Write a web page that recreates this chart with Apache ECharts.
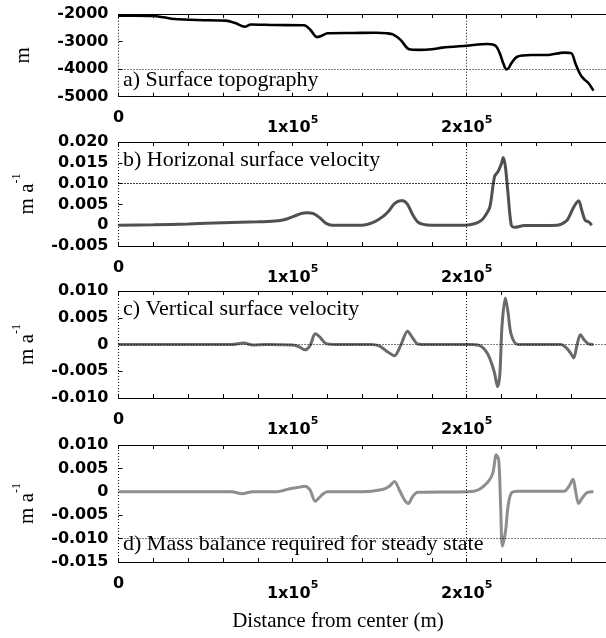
<!DOCTYPE html>
<html><head><meta charset="utf-8">
<script src="https://cdn.jsdelivr.net/npm/echarts@6/dist/echarts.min.js"></script>
<style>html,body{margin:0;padding:0;background:#fff}#c{width:606px;height:638px}</style>
</head><body><div id="c"></div>
<script>
// ---- data (distance in m) ----
const distA = [0,10000,20000,26000,32000,45000,61600,67000,72600,76000,90000,106600,110000,114000,117000,120000,135000,148000,154000,157600,162000,167000,172500,180000,186000,200000,212000,215000,217000,219000,221000,222800,224200,225600,229000,237000,246000,256000,260000,262400,264000,266000,268000,270000,272800];
const elevA = [-2060,-2060,-2070,-2120,-2180,-2220,-2240,-2330,-2460,-2380,-2400,-2410,-2560,-2840,-2780,-2700,-2690,-2680,-2700,-2740,-2940,-3280,-3300,-3280,-3220,-3150,-3090,-3110,-3180,-3420,-3790,-4010,-3950,-3790,-3550,-3490,-3490,-3400,-3420,-3790,-4030,-4270,-4400,-4510,-4780];

const distB = [0,20000,40000,60000,80000,90000,95000,101000,105000,108000,112000,115600,119000,123000,140000,146000,151600,155000,158500,162000,163300,166000,169000,171800,175000,180000,199000,205000,208600,211000,213300,216000,218000,220000,221000,222200,223700,225600,227500,233000,252000,255000,257700,261500,264300,266000,268000,270000,271800];
const velH = [0,0.0001,0.0003,0.0006,0.0008,0.001,0.0013,0.0022,0.0028,0.003,0.0028,0.0018,0.0005,0,0,0.0006,0.002,0.0033,0.0052,0.0059,0.0059,0.005,0.0025,0.0008,0.0002,0,0,0.0004,0.0012,0.0025,0.0044,0.0117,0.0129,0.0149,0.0163,0.0141,0.0077,0,-0.0005,-0.0001,0,0.0004,0.0012,0.0044,0.0059,0.0037,0.0012,0.0008,0];

const distC = [0,40000,65000,72000,77000,85000,100000,103600,107000,110000,113000,115600,119000,125000,145000,150000,153800,158500,162300,166000,169000,171800,176500,203000,208600,212400,215800,217700,219000,220300,222200,223700,225600,229400,254000,256800,259700,261500,263400,265300,267600,270000,272800];
const velV = [0,0,0,0.0003,-0.0001,0,-0.0001,-0.0004,-0.001,-0.0002,0.002,0.0014,0.0002,0,0,-0.0003,-0.0012,-0.0021,0,0.0025,0.0012,0.0001,0,0,-0.0004,-0.002,-0.0051,-0.0079,-0.0057,0.0036,0.0087,0.0061,0.0018,0,0,-0.0005,-0.0016,-0.0025,0,0.0018,0.0008,0.0001,0];

const distD = [0,40000,65000,71000,77000,90000,99000,104000,107000,110000,113000,116700,120000,140000,151600,155600,158500,161300,164200,166400,169000,171800,200000,206600,212400,215000,217000,218400,219500,220500,222400,223700,225600,229400,256000,258600,261100,262400,264300,266200,269000,272800];
const massBal = [0,0,0,-0.0004,0,0,0.0007,0.001,0.0012,0.0004,-0.002,-0.0007,0,0,0.0005,0.0012,0.0022,0.0004,-0.0017,-0.0025,-0.001,-0.0001,0,0.0004,0.0022,0.004,0.0079,0.0068,-0.0032,-0.0116,-0.0081,-0.0032,-0.0003,0.0001,0.0001,0.0011,0.0027,0.0004,-0.0025,-0.0014,-0.0002,0];

// ---- axes / labels ----
const xLabelValues = [0, 100000, 200000];
const xLabelTexts = ['{z|0}', '{b|1x10}{s|5}', '{b|2x10}{s|5}'];
const yRanges = [[-5000, -2000, 1000], [-0.005, 0.020, 0.005], [-0.010, 0.010, 0.005], [-0.015, 0.010, 0.005]];
const yNames = ['{t|m}', '{t|m a}{s|-1}', '{t|m a}{s|-1}', '{t|m a}{s|-1}'];
const vGridLines = [0, 200000];
const hGridA = [-4000];
const hGridB = [0.015, 0.005];
const hGridC = [0, -0.005];
const hGridD = [0.005, -0.010];
const panelTitles = ['a) Surface topography', 'b) Horizonal surface velocity', 'c) Vertical surface velocity', 'd) Mass balance required for steady state'];
const xTitle = 'Distance from center (m)';

// ---- layout ----
const gridPos = [[14, 82.7], [142, 104], [291, 107], [445, 117]];
const titleY = [80, 160, 309.5, 544.5];
const nameGaps = [85, 80.5, 80.5, 80.5];
const lineColors = ['#000000', '#505050', '#6a6a6a', '#8e8e8e'];
const lineWidths = [2.6, 3, 3, 3];
const X_MAX = 280000;

const sansFont = 'DejaVu Sans';
const serifFont = 'Liberation Serif';

const seriesData = [
  distA.map((d, i) => [d, elevA[i]]),
  distB.map((d, i) => [d, velH[i]]),
  distC.map((d, i) => [d, velV[i]]),
  distD.map((d, i) => [d, massBal[i]])
];
const hGrids = [hGridA, hGridB, hGridC, hGridD];

const dotted = { color: '#000', width: 1, type: [1, 2] };

const grids = [], xAxes = [], yAxes = [], series = [];
for (let i = 0; i < 4; i++) {
  grids.push({ left: 118.5, top: gridPos[i][0], width: 494, height: gridPos[i][1], containLabel: false });
  xAxes.push({
    type: 'value', gridIndex: i, min: 0, max: X_MAX, interval: 20000, position: 'bottom',
    axisLine: { show: true, onZero: false, lineStyle: { color: '#000', width: 1 } },
    axisTick: { show: true, inside: true, length: 4, lineStyle: { color: '#000', width: 1 } },
    splitLine: { show: false },
    axisLabel: {
      margin: 13.5, showMaxLabel: false,
      formatter: v => { const k = xLabelValues.indexOf(Math.round(v)); return k >= 0 ? xLabelTexts[k] : ''; },
      rich: {
        z: { fontFamily: sansFont, fontWeight: 'bold', fontSize: 16, lineHeight: 16, color: '#000', verticalAlign: 'top' },
        b: { fontFamily: sansFont, fontWeight: 'bold', fontSize: 16, lineHeight: 26, color: '#000', verticalAlign: 'bottom' },
        s: { fontFamily: sansFont, fontWeight: 'bold', fontSize: 11, color: '#000', verticalAlign: 'top', padding: [4, 0, 0, 0] }
      }
    }
  });
  xAxes.push({
    type: 'value', gridIndex: i, min: 0, max: X_MAX, interval: 20000, position: 'top',
    axisLine: { show: true, onZero: false, lineStyle: { color: '#000', width: 1 } },
    axisTick: { show: true, inside: true, length: 4, lineStyle: { color: '#000', width: 1 } },
    splitLine: { show: false }, axisLabel: { show: false }
  });
  const r = yRanges[i];
  yAxes.push({
    type: 'value', gridIndex: i, min: r[0], max: r[1], interval: r[2],
    axisLine: { show: false },
    axisTick: { show: true, inside: true, length: 4, lineStyle: { color: '#000', width: 1 } },
    splitLine: { show: false },
    axisLabel: {
      margin: 10, color: '#000', fontFamily: sansFont, fontWeight: 'bold', fontSize: 16,
      formatter: v => i === 0 ? String(Math.round(v)) : (Math.abs(v) < 1e-9 ? '0' : v.toFixed(3))
    },
    name: yNames[i], nameLocation: 'middle', nameRotate: 90, nameGap: nameGaps[i],
    nameTextStyle: {
      rich: {
        t: { fontFamily: serifFont, fontSize: 21, lineHeight: 27, color: '#000', verticalAlign: 'bottom' },
        s: { fontFamily: serifFont, fontSize: 12, lineHeight: 12, color: '#000', verticalAlign: 'top' }
      }
    }
  });
  const ml = vGridLines.map(v => ({ xAxis: v })).concat(hGrids[i].map(v => ({ yAxis: v })));
  series.push({
    type: 'line', xAxisIndex: 2 * i, yAxisIndex: i, data: seriesData[i],
    showSymbol: false, smooth: 0.3, clip: true,
    lineStyle: { color: lineColors[i], width: lineWidths[i] },
    markLine: { silent: true, symbol: 'none', label: { show: false }, lineStyle: dotted, data: ml, animation: false }
  });
}

const graphics = panelTitles.map((t, i) => ({
  type: 'text', x: 123, y: titleY[i], z: 100,
  style: { text: t, font: '22px "' + serifFont + '"', fill: '#000', verticalAlign: 'middle', align: 'left' }
}));
graphics.push({
  type: 'text', x: 338, y: 621, z: 100,
  style: { text: xTitle, font: '21px "' + serifFont + '"', fill: '#000', verticalAlign: 'middle', align: 'center' }
});

const chart = echarts.init(document.getElementById('c'), null, { renderer: 'canvas', devicePixelRatio: 1 });
chart.setOption({
  animation: false,
  backgroundColor: '#fff',
  grid: grids, xAxis: xAxes, yAxis: yAxes, series: series, graphic: graphics
});
</script></body></html>
